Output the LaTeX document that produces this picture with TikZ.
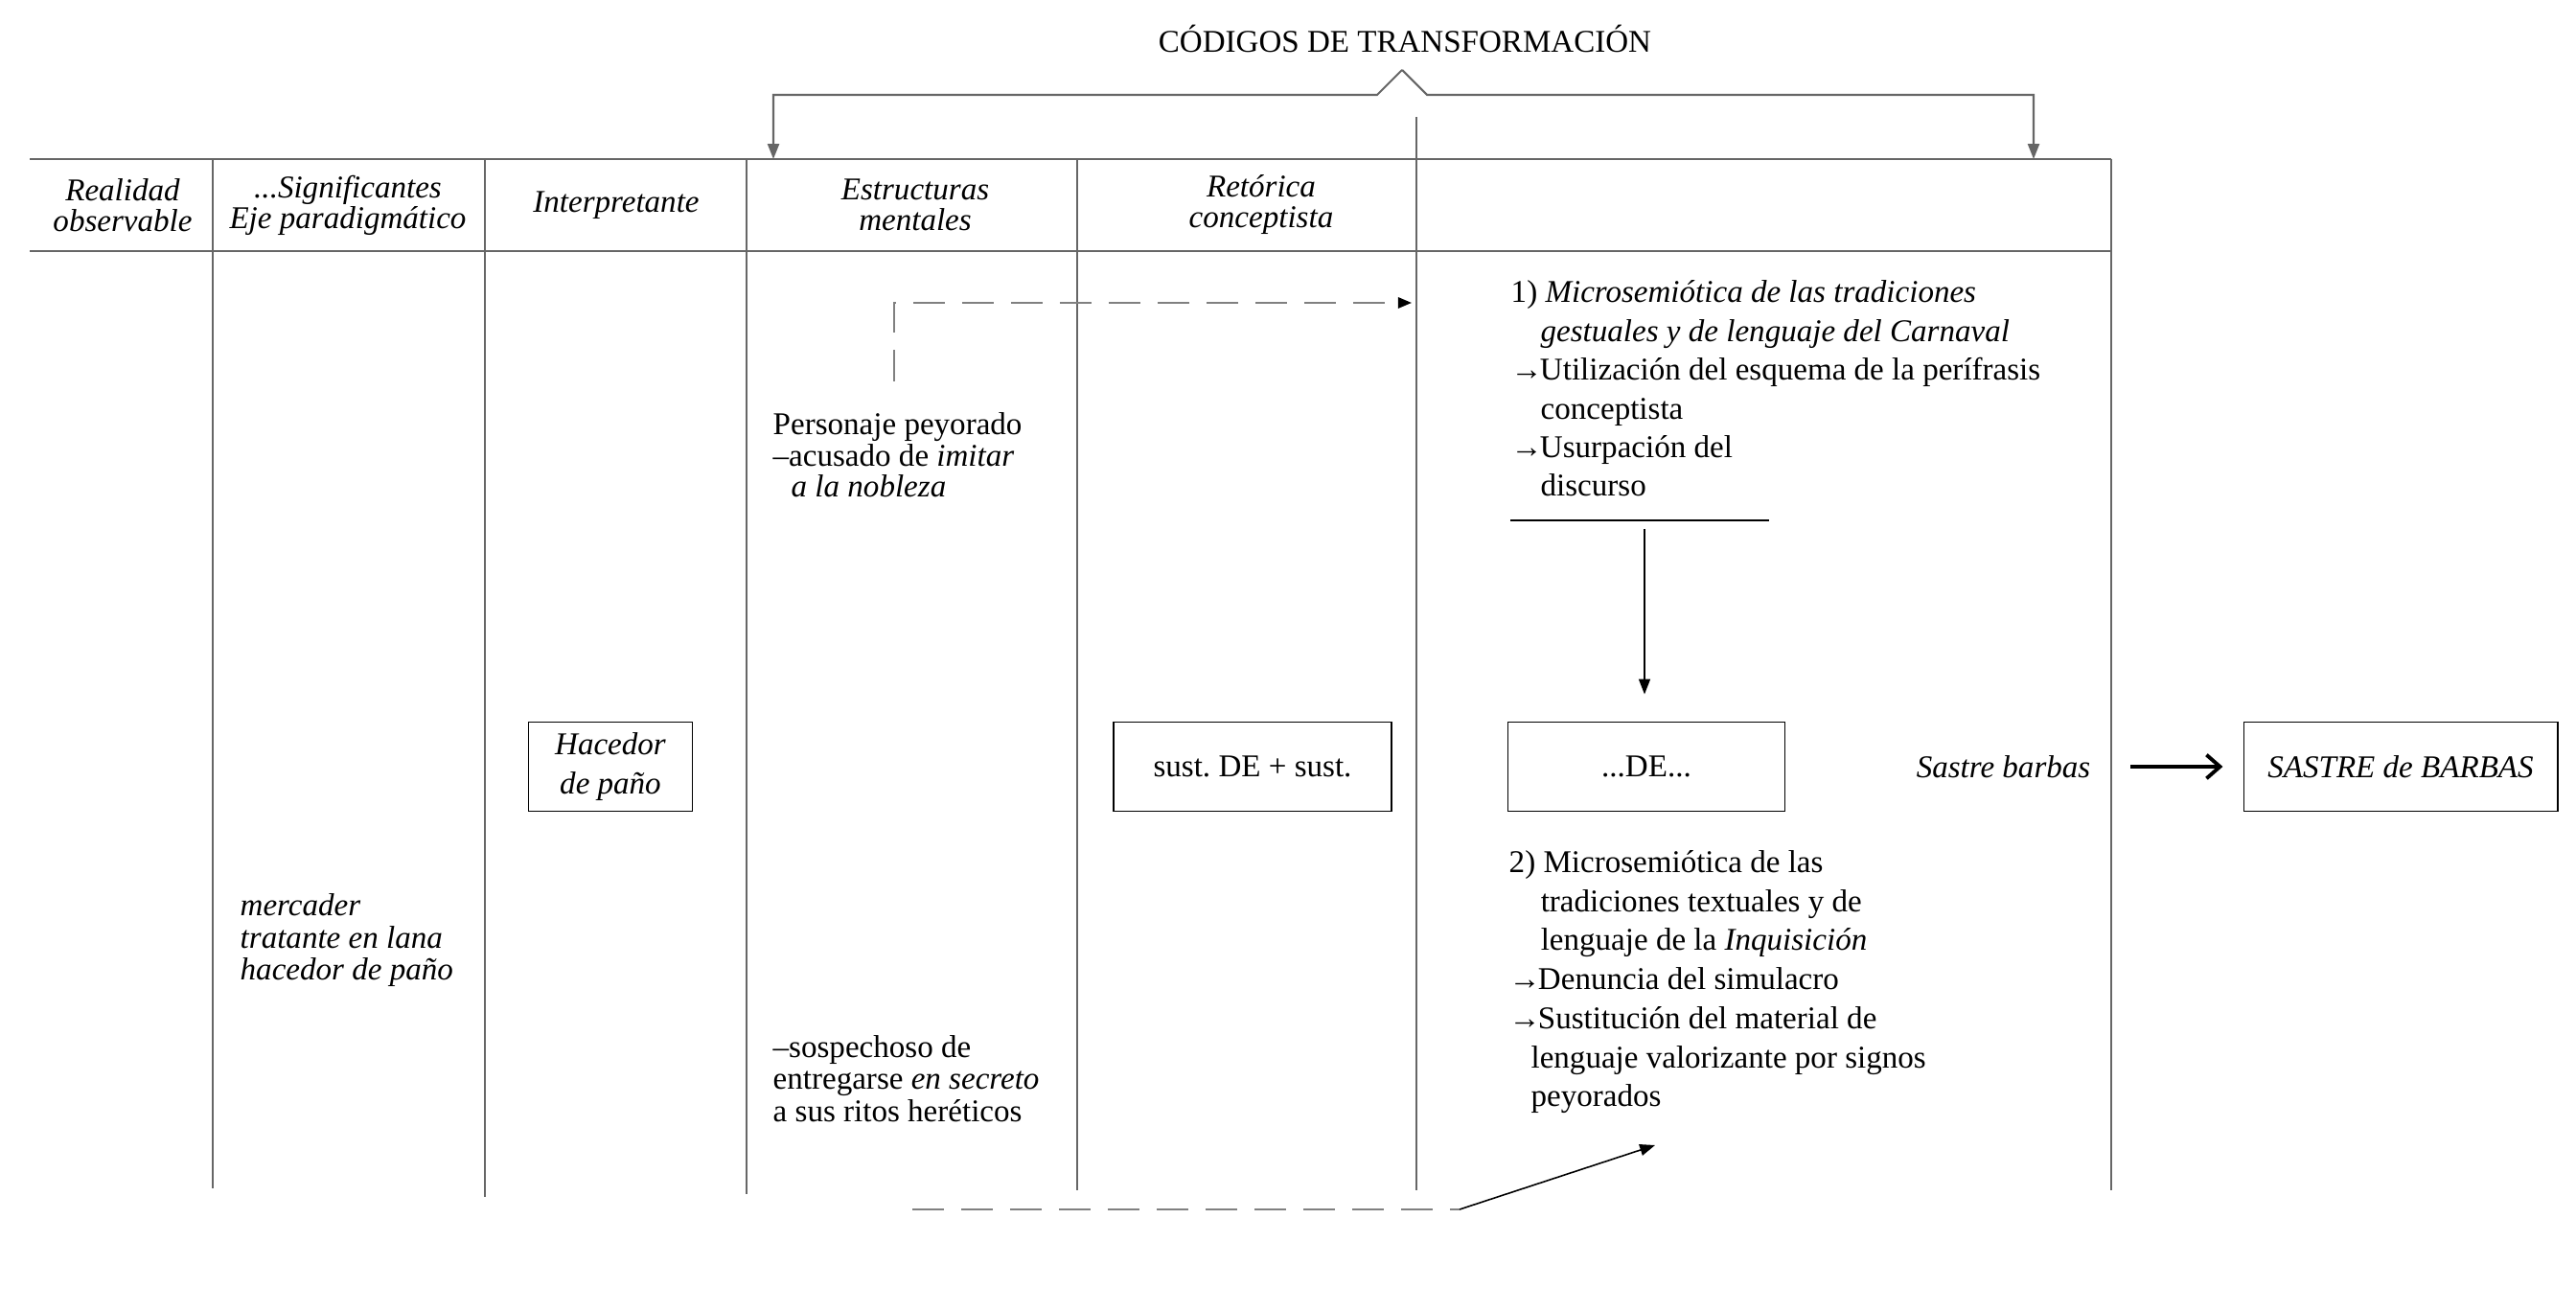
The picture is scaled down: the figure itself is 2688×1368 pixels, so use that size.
\documentclass[tikz,border=0pt]{standalone}
\usepackage{fontspec}
\setmainfont{Liberation Serif}
\usetikzlibrary{arrows.meta}

\definecolor{rulegray}{gray}{0.40}
\definecolor{dashgray}{gray}{0.50}
\newcommand\diafont{\fontsize{9.4}{11.5}\selectfont}

\begin{document}
\begin{tikzpicture}[x=0.01cm, y=-0.01cm, font=\diafont,
	txt/.style={inner sep=0, anchor=base west, align=left},
	head/.style={inner sep=0, align=center, font=\fontsize{9.4}{9.1}\selectfont\itshape},
	cbox/.style={draw, line width=0.5pt, minimum height=0.93cm, inner sep=0, align=center},
	tipline/.style={line width=0.45pt, -{Triangle[length=4.5pt,width=3.4pt]}},
	dashline/.style={dashgray, line width=0.6pt, dash pattern=on 9.5pt off 5pt}]

\useasboundingbox (0,0) rectangle (2688,1368);

\draw[rulegray, line width=0.7pt] (31,166) -- (2203,166);
\draw[rulegray, line width=0.7pt] (31,262) -- (2203,262);
\foreach \x/\b in {222/1240,506/1249,779/1246,1124/1242,2203/1242} {
	\draw[rulegray, line width=0.35pt] (\x,166) -- (\x,\b);
};
\draw[rulegray, line width=0.35pt] (1478,122) -- (1478,1242);

\node[inner sep=0, anchor=base] (codigos) at (1466,55) {CÓDIGOS DE TRANSFORMACIÓN};
\coordinate (peak) at (1463,73);
\coordinate (bl) at (807,166);
\coordinate (br) at (2122,166);
\draw[tipline, rulegray, line width=0.6pt] (peak) -- (1437,99) -- (807,99) -- (bl);
\draw[tipline, rulegray, line width=0.6pt] (peak) -- (1489,99) -- (2122,99) -- (br);

\node[head] (realidad) at (128,214) {Realidad\\observable};
\node[head] (signif) at (363,214) {...Significantes\\Eje paradigmático};
\node[head] (interp) at (643,214) {Interpretante};
\node[head] (estruct) at (955,214) {Estructuras\\mentales};
\node[head] (retorica) at (1316,214) {Retórica\\conceptista};

\node[txt, font=\fontsize{9.4}{9.6}\selectfont\itshape] (mercader) at (250,1023) {mercader\\tratante en lana\\hacedor de paño};
\node[txt, font=\fontsize{9.4}{9.3}\selectfont] (personaje) at (806,519) {Personaje peyorado\\–acusado de \textit{imitar}\\\hspace*{5.4pt}\textit{a la nobleza}};
\node[txt, font=\fontsize{9.4}{9.4}\selectfont] (sospechoso) at (806,1170) {–sospechoso de\\entregarse \textit{en secreto}\\a sus ritos heréticos};

\node[cbox, minimum width=1.71cm, font=\fontsize{9.4}{11.7}\selectfont\itshape] (hacedor) at (637,800) {Hacedor\\de paño};
\node[cbox, minimum width=2.9cm] (sust) at (1307,800) {sust.\ DE + sust.};
\node[cbox, minimum width=2.89cm] (de) at (1718,800) {...DE...};
\node[cbox, minimum width=3.27cm, font=\diafont\itshape] (sastreB) at (2505,800) {SASTRE de BARBAS};
\node[inner sep=0, anchor=east, font=\diafont\itshape] (sastre) at (2182,800) {Sastre barbas};
\draw[line width=1.1pt, -{Straight Barb[length=4pt,width=7pt]}, shorten <=11.7pt, shorten >=6pt] (sastre) -- (sastreB);

\node[txt] (micro1) at (1576,518) {1) \textit{Microsemiótica de las tradiciones}\\\hspace*{8.8pt}\textit{gestuales y de lenguaje del Carnaval}\\→\kern-0.8pt Utilización del esquema de la perífrasis\\\hspace*{8.8pt}conceptista\\→\kern-0.8pt Usurpación del\\\hspace*{8.8pt}discurso};
\node[txt, font=\fontsize{9.4}{11.6}\selectfont] (micro2) at (1574,1155) {2) Microsemiótica de las\\\hspace*{9.4pt}tradiciones textuales y de\\\hspace*{9.4pt}lenguaje de la \textit{Inquisición}\\→\kern-0.8pt Denuncia del simulacro\\→\kern-0.8pt Sustitución del material de\\\hspace*{6.5pt}lenguaje valorizante por signos\\\hspace*{6.5pt}peyorados};

\coordinate (ul) at (1576,543);
\coordinate (ur) at (1846,543);
\draw[line width=0.45pt] (ul) -- (ur);
\coordinate (dstart) at (1716,552);
\draw[tipline, shorten >=8pt] (dstart) -- (dstart |- de.north);

\coordinate (pstart) at (933,398);
\coordinate (pend) at (1473,316);
\draw[dashline, -{Triangle[length=4pt,width=3.2pt,color=black]}] (pstart) |- (pend);

\coordinate (bs) at (952,1262);
\coordinate (bm) at (1523,1262);
\coordinate (be) at (1727,1195);
\draw[dashline] (bs) -- (bm);
\draw[tipline] (bm) -- (be);
\end{tikzpicture}
\end{document}
